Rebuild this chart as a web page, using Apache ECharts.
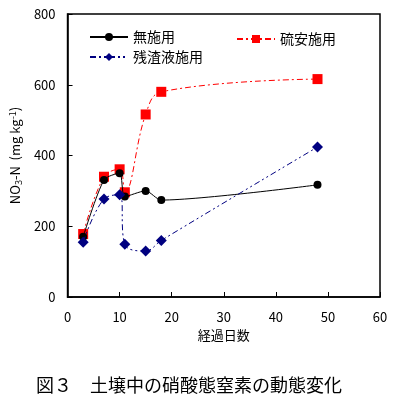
<!DOCTYPE html>
<html>
<head>
	<meta charset="utf-8">
	<title>図３</title>
	<script src="https://cdn.jsdelivr.net/npm/echarts@6/dist/echarts.min.js"></script>
	<style>
		body { margin: 0; background: #fff; }
		#main { width: 398px; height: 415px; }
	</style>
</head>
<body>
	<div id="main"></div>
	<script type="text/javascript">
		// 経過日数
		var days = [3, 7, 10, 11, 15, 18, 48];
		var seriesNames = ['無施用', '硫安施用', '残渣液施用'];
		var mushiyou = [170, 331, 350, 284, 300, 274, 317];
		var ryuan = [178, 340, 361, 296, 516, 580, 616];
		var zansa = [155, 277, 289, 149, 130, 160, 424];
		var xTicks = [0, 10, 20, 30, 40, 50, 60];
		var yTicks = [0, 200, 400, 600, 800];

		function pairs(vals) {
			return days.map(function (d, i) { return [d, vals[i]]; });
		}

		var font = '"Noto Sans CJK JP", "DejaVu Sans", sans-serif';
		var myChart = echarts.init(document.getElementById('main'));

		var legendBase = {
			itemWidth: 38,
			itemHeight: 10,
			itemGap: 0,
			textStyle: { fontFamily: font, fontSize: 14, color: '#000' }
		};

		myChart.setOption({
			backgroundColor: '#fff',
			animation: false,
			title: {
				text: '図３　土壌中の硝酸態窒素の動態変化',
				left: 31,
				top: 371,
				textStyle: { fontFamily: font, fontSize: 18, fontWeight: 'normal', color: '#000' }
			},
			legend: [
				Object.assign({ data: [seriesNames[0]], left: 84, top: 25 }, legendBase),
				Object.assign({ data: [seriesNames[1]], left: 231, top: 27 }, legendBase),
				Object.assign({ data: [seriesNames[2]], left: 84, top: 45 }, legendBase)
			],
			grid: {
				left: 62, top: 14, right: 18, bottom: 118,
				show: true, borderColor: '#000', borderWidth: 1.5
			},
			xAxis: {
				type: 'value',
				min: xTicks[0], max: xTicks[xTicks.length - 1], interval: 10,
				name: '経過日数',
				nameLocation: 'middle',
				nameGap: 30,
				nameTextStyle: { fontFamily: font, fontSize: 13, color: '#000' },
				axisLine: { lineStyle: { color: '#000', width: 1.5 } },
				axisTick: { inside: true, length: 5, lineStyle: { color: '#000' } },
				axisLabel: { margin: 14, fontFamily: font, fontSize: 13, color: '#000' },
				splitLine: { show: false }
			},
			yAxis: {
				type: 'value',
				min: yTicks[0], max: yTicks[yTicks.length - 1], interval: 200,
				name: '{a|NO}{s|3}{a|-N  (mg kg}{p|-1}{a|)}',
				nameLocation: 'middle',
				nameGap: 42,
				nameTextStyle: {
					fontFamily: font, color: '#000',
					rich: {
						a: { fontFamily: font, fontSize: 13, color: '#000' },
						s: { fontFamily: font, fontSize: 9, color: '#000', verticalAlign: 'bottom', padding: [6, 0, 0, 0] },
						p: { fontFamily: font, fontSize: 9, color: '#000', verticalAlign: 'top', padding: [0, 0, 6, 0] }
					}
				},
				axisLine: { show: true, lineStyle: { color: '#000', width: 1.5 } },
				axisTick: { show: true, inside: true, length: 5, lineStyle: { color: '#000' } },
				axisLabel: { margin: 12, fontFamily: font, fontSize: 13, color: '#000' },
				splitLine: { show: false }
			},
			series: [
				{
					name: seriesNames[0],
					type: 'line',
					data: pairs(mushiyou),
					smooth: 0.25,
					symbol: 'circle',
					symbolSize: 8,
					itemStyle: { color: '#000' },
					lineStyle: { color: '#000', width: 1 },
					z: 3
				},
				{
					name: seriesNames[1],
					type: 'line',
					data: pairs(ryuan),
					smooth: 0.4,
					symbol: 'rect',
					symbolSize: 10,
					itemStyle: { color: '#ff0000' },
					lineStyle: { color: '#ff0000', width: 1, type: [6, 3, 2, 3] },
					z: 2
				},
				{
					name: seriesNames[2],
					type: 'line',
					data: pairs(zansa),
					smooth: 0.4,
					symbol: 'diamond',
					symbolSize: 11,
					itemStyle: { color: '#000080' },
					lineStyle: { color: '#000080', width: 1, type: [6, 3, 2, 3, 2, 3] },
					z: 4
				}
			]
		});
	</script>
</body>
</html>
